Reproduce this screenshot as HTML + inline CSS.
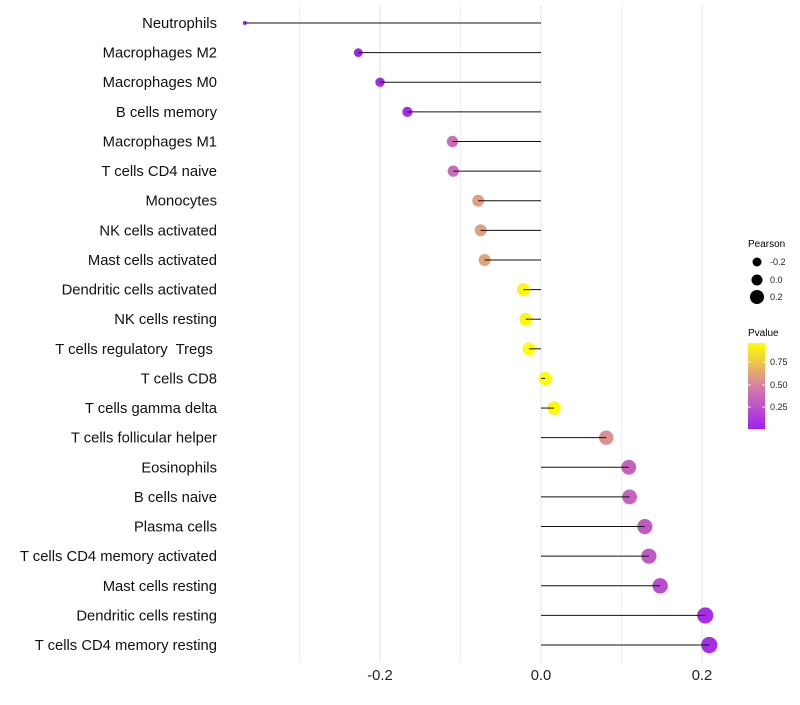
<!DOCTYPE html>
<html><head><meta charset="utf-8"><style>
body{margin:0;background:#fff;font-family:"Liberation Sans",sans-serif}
#ylabels text{white-space:pre}
</style></head><body>
<svg id="chart" width="800" height="700" xmlns="http://www.w3.org/2000/svg" font-family="Liberation Sans, sans-serif">
<g id="grid"></g>
<g id="marks"></g>
<g id="ylabels"></g>
<g id="xlabels"></g>
<g font-size="9">
<text x="748" y="247" font-size="10" fill="#000">Pearson</text>
<circle cx="757" cy="262" r="4.5" fill="#000"/>
<text x="770" y="265" fill="#222">-0.2</text>
<circle cx="757" cy="280" r="5.5" fill="#000"/>
<text x="770" y="283" fill="#222">0.0</text>
<circle cx="757" cy="297" r="7" fill="#000"/>
<text x="770" y="300" fill="#222">0.2</text>
</g>
<g font-size="9">
<defs><linearGradient id="pg" x1="0" y1="1" x2="0" y2="0">
<stop offset="0" stop-color="#A020F0"/><stop offset="0.5" stop-color="#D77FA8"/><stop offset="1" stop-color="#FFFF00"/></linearGradient></defs>
<text x="748" y="336" font-size="10" fill="#000">Pvalue</text>
<rect x="748" y="343" width="17" height="86" fill="url(#pg)"/>
<g stroke="#fff" stroke-width="1" opacity="0.8"><line x1="748" x2="751" y1="362" y2="362"/><line x1="762" x2="765" y1="362" y2="362"/><line x1="748" x2="751" y1="385" y2="385"/><line x1="762" x2="765" y1="385" y2="385"/><line x1="748" x2="751" y1="407" y2="407"/><line x1="762" x2="765" y1="407" y2="407"/></g>
<text x="770" y="365" fill="#222">0.75</text>
<text x="770" y="388" fill="#222">0.50</text>
<text x="770" y="410" fill="#222">0.25</text>
</g>
</svg>
<script>
const categories=["Neutrophils","Macrophages M2","Macrophages M0","B cells memory","Macrophages M1","T cells CD4 naive","Monocytes","NK cells activated","Mast cells activated","Dendritic cells activated","NK cells resting","T cells regulatory  Tregs ","T cells CD8","T cells gamma delta","T cells follicular helper","Eosinophils","B cells naive","Plasma cells","T cells CD4 memory activated","Mast cells resting","Dendritic cells resting","T cells CD4 memory resting"];
const pearson=[-0.368,-0.227,-0.2,-0.166,-0.11,-0.109,-0.078,-0.075,-0.07,-0.022,-0.019,-0.015,0.005,0.016,0.081,0.109,0.11,0.129,0.134,0.148,0.204,0.209];
const pvalue=[0.01,0.05,0.08,0.1,0.4,0.4,0.6,0.6,0.62,0.92,0.93,0.95,0.99,0.93,0.55,0.35,0.35,0.3,0.3,0.25,0.1,0.1];
const xTicks=[-0.2,0,0.2];
const xTickLabels=["-0.2","0.0","0.2"];
const xMinor=[-0.3,-0.1,0.1];
const NS="http://www.w3.org/2000/svg";
const xs=v=>541+v*805;
const ys=i=>23+i*29.62;
const rs=v=>Math.sqrt(Math.max(2,4+(v+0.368)*107));
function col(p){const t=Math.max(0,Math.min(1,(p-0.03)/0.92));
 const a=[160,32,240],m=[215,127,168],b=[255,255,0];let c;
 if(t<0.5){const u=t/0.5;c=a.map((x,k)=>x+(m[k]-x)*u);}else{const u=(t-0.5)/0.5;c=m.map((x,k)=>x+(b[k]-x)*u);}
 return `rgb(${c.map(Math.round).join(",")})`;}
function mk(tag,attrs,parent){const e=document.createElementNS(NS,tag);for(const k in attrs)e.setAttribute(k,attrs[k]);parent.appendChild(e);return e;}
const grid=document.getElementById('grid'),marks=document.getElementById('marks'),yl=document.getElementById('ylabels'),xl=document.getElementById('xlabels');
xMinor.forEach(v=>{const l=mk('line',{x1:xs(v),x2:xs(v),y1:5,y2:663,stroke:'#f0f0f0','stroke-width':1},grid);

});
xTicks.forEach((v,i)=>{const l=mk('line',{x1:xs(v),x2:xs(v),y1:5,y2:663,stroke:'#e6e6e6','stroke-width':1},grid);


const t=mk('text',{x:xs(v),y:680,'text-anchor':'middle','font-size':14.8,fill:'#222'},xl);t.textContent=xTickLabels[i];

});
categories.forEach((c,i)=>{const y=ys(i),v=pearson[i];
const ci=mk('circle',{cx:xs(v),cy:y,r:rs(v),fill:col(pvalue[i])},marks);


const l=mk('line',{x1:xs(0),x2:xs(v),y1:y,y2:y,stroke:'#111','stroke-width':1},marks);


const t=mk('text',{x:217,y:y+5,'text-anchor':'end','font-size':14.8,fill:'#111'},yl);t.textContent=c;

});
</script>
</body></html>
